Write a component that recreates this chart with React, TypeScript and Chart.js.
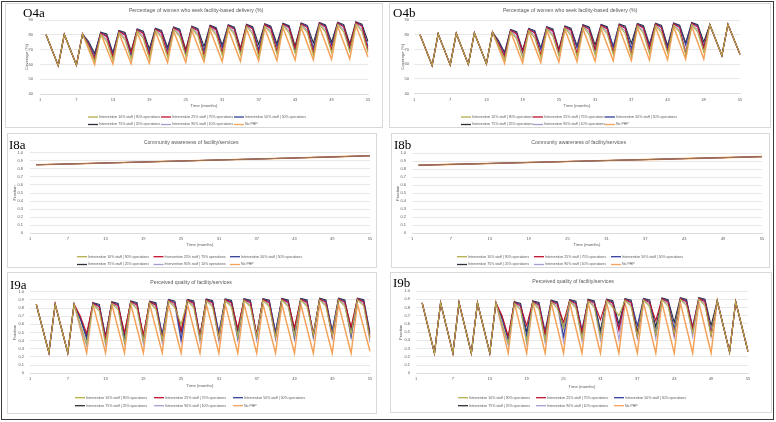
import React, { useEffect, useRef } from 'react';
import { Chart, registerables } from 'chart.js';

Chart.register(...registerables);
Chart.defaults.font.family = '"Liberation Sans", Arial, sans-serif';

// ---- categories / tick labels ----
const months: string[] = Array.from({ length: 55 }, (_, i) => String(i + 1));
const tickMonths = ['1', '7', '13', '19', '25', '31', '37', '43', '49', '55'];

const seriesNames = [
  'Intervention 10% staff | 90% operations',
  'Intervention 25% staff | 75% operations',
  'Intervention 50% staff | 50% operations',
  'Intervention 75% staff | 25% operations',
  'Intervention 90% staff | 10% operations',
  'No PHP',
];
const seriesColors = ['#B3AE4C', '#C0122F', '#34409A', '#2F2F3A', '#A99CCF', '#F4A259'];

// ---- O4a: facility-based delivery (%) ----
const o4aStaff10 = [null,
  80.0, 69.6, 59.2, 80.2, 69.9, 59.5, 80.6, 72.0, 62.0, 80.3, 75.3, 63.0, 81.5, 76.5, 63.5, 82.5, 77.5, 64.0,
  83.0, 78.0, 65.0, 83.8, 78.8, 65.5, 84.3, 79.3, 64.0, 84.9, 79.9, 66.0, 85.3, 80.3, 66.5, 85.6, 80.6, 65.0,
  85.9, 80.9, 67.0, 86.3, 81.3, 67.5, 86.5, 81.5, 66.0, 86.8, 81.8, 68.0, 87.0, 82.0, 68.5, 87.3, 82.3, 68.0];
const o4aStaff25 = [null,
  80.0, 69.6, 59.2, 80.2, 69.9, 59.5, 80.6, 73.5, 64.0, 81.2, 78.7, 65.0, 82.4, 79.9, 68.0, 83.4, 80.9, 66.0,
  83.9, 81.4, 67.0, 84.7, 82.2, 69.0, 85.2, 82.7, 66.0, 85.8, 83.3, 68.0, 86.2, 83.7, 70.0, 86.5, 84.0, 67.0,
  86.8, 84.3, 69.0, 87.2, 84.7, 71.0, 87.4, 84.9, 68.0, 87.7, 85.2, 70.0, 87.9, 85.4, 72.0, 88.2, 85.7, 70.0];
const o4aStaff50 = [null,
  80.0, 69.6, 59.2, 80.2, 69.9, 59.5, 80.6, 74.5, 66.0, 81.5, 79.5, 67.0, 82.7, 80.7, 66.0, 83.7, 81.7, 68.0,
  84.2, 82.2, 70.0, 85.0, 83.0, 67.0, 85.5, 83.5, 69.0, 86.1, 84.1, 71.0, 86.5, 84.5, 68.0, 86.8, 84.8, 70.0,
  87.1, 85.1, 72.0, 87.5, 85.5, 69.0, 87.7, 85.7, 71.0, 88.0, 86.0, 73.0, 88.2, 86.2, 70.0, 88.5, 86.5, 72.0];
const o4aStaff75 = [null,
  80.0, 69.6, 59.2, 80.2, 69.9, 59.5, 80.6, 75.5, 67.5, 81.8, 80.5, 68.0, 83.0, 81.6, 69.0, 84.0, 82.5, 70.5,
  84.5, 83.0, 71.5, 85.3, 83.8, 70.0, 85.8, 84.2, 72.0, 86.4, 84.8, 73.0, 86.8, 85.2, 71.0, 87.1, 85.5, 73.5,
  87.4, 85.8, 74.0, 87.8, 86.2, 72.5, 88.0, 86.4, 74.5, 88.3, 86.7, 75.0, 88.5, 86.9, 74.0, 88.8, 87.2, 75.5];
const o4aStaff90 = [null,
  80.0, 69.6, 59.2, 80.2, 69.9, 59.5, 80.6, 72.5, 63.0, 80.8, 76.8, 64.0, 82.0, 78.0, 65.0, 83.0, 79.0, 65.0,
  83.5, 79.5, 66.0, 84.3, 80.3, 67.0, 84.8, 80.8, 67.0, 85.4, 81.4, 67.5, 85.8, 81.8, 68.0, 86.1, 82.1, 68.0,
  86.4, 82.4, 68.5, 86.8, 82.8, 69.0, 87.0, 83.0, 69.0, 87.3, 83.3, 69.5, 87.5, 83.5, 70.0, 87.8, 83.8, 69.0];
const o4aNoPhp = [null,
  80.0, 69.6, 59.2, 80.2, 69.9, 59.5, 80.6, 70.3, 59.9, 80.9, 70.6, 60.3, 81.3, 70.9, 60.5, 81.6, 71.3, 60.9,
  82.1, 71.7, 61.2, 82.4, 71.9, 61.4, 82.9, 72.3, 61.7, 83.2, 72.6, 62.0, 83.7, 73.0, 62.2, 84.0, 73.3, 62.5,
  84.4, 73.6, 62.7, 84.7, 73.9, 63.0, 85.1, 74.2, 63.2, 85.4, 74.5, 63.5, 85.8, 74.8, 63.7, 86.1, 75.6, 65.0];

// ---- O4b ----
const o4bStaff10 = [null,
  80.0, 69.5, 59.0, 80.5, 70.0, 59.5, 80.8, 70.3, 59.8, 81.2, 70.7, 60.2, 81.8, 72.5, 63.0, 82.1, 77.1, 64.0,
  82.8, 77.8, 64.5, 84.0, 79.0, 65.5, 84.5, 79.5, 65.0, 85.3, 80.3, 66.0, 85.5, 80.5, 66.5, 85.8, 80.8, 65.5,
  86.1, 81.1, 67.0, 86.3, 81.3, 67.5, 86.5, 81.5, 66.5, 86.8, 81.8, 68.0, 86.8, 76.3, 65.8, 87.0, 76.8, 66.6];
const o4bStaff25 = [null,
  80.0, 69.5, 59.0, 80.5, 70.0, 59.5, 80.8, 70.3, 59.8, 81.2, 70.7, 60.2, 81.8, 74.0, 65.5, 83.0, 80.5, 68.5,
  83.7, 81.2, 66.5, 84.9, 82.4, 69.0, 85.4, 82.9, 67.0, 86.2, 83.7, 70.0, 86.4, 83.9, 68.0, 86.7, 84.2, 66.5,
  87.0, 84.5, 70.5, 87.2, 84.7, 68.5, 87.4, 84.9, 67.0, 87.7, 85.2, 71.0, 86.8, 76.3, 65.8, 87.0, 76.8, 66.6];
const o4bStaff50 = [null,
  80.0, 69.5, 59.0, 80.5, 70.0, 59.5, 80.8, 70.3, 59.8, 81.2, 70.7, 60.2, 81.8, 75.0, 67.0, 83.3, 81.3, 68.0,
  84.0, 82.0, 70.0, 85.2, 83.2, 68.5, 85.7, 83.7, 71.0, 86.5, 84.5, 69.5, 86.7, 84.7, 72.0, 87.0, 85.0, 70.5,
  87.3, 85.3, 72.5, 87.5, 85.5, 71.0, 87.7, 85.7, 73.0, 88.0, 86.0, 72.0, 86.8, 76.3, 65.8, 87.0, 76.8, 66.6];
const o4bStaff75 = [null,
  80.0, 69.5, 59.0, 80.5, 70.0, 59.5, 80.8, 70.3, 59.8, 81.2, 70.7, 60.2, 81.8, 76.0, 68.0, 83.6, 82.0, 69.5,
  84.3, 82.8, 71.0, 85.5, 84.0, 70.0, 86.0, 84.5, 72.5, 86.8, 85.3, 73.0, 87.0, 85.5, 71.5, 87.3, 85.8, 74.0,
  87.6, 86.1, 73.5, 87.8, 86.3, 72.5, 88.0, 86.5, 74.5, 88.3, 86.8, 75.0, 86.8, 76.3, 65.8, 87.0, 76.8, 66.6];
const o4bStaff90 = [null,
  80.0, 69.5, 59.0, 80.5, 70.0, 59.5, 80.8, 70.3, 59.8, 81.2, 70.7, 60.2, 81.8, 73.0, 64.0, 82.6, 78.6, 65.0,
  83.3, 79.3, 66.0, 84.5, 80.5, 66.5, 85.0, 81.0, 67.0, 85.8, 81.8, 67.5, 86.0, 82.0, 68.0, 86.3, 82.3, 68.0,
  86.6, 82.6, 68.5, 86.8, 82.8, 69.0, 87.0, 83.0, 69.0, 87.3, 83.3, 69.5, 86.8, 76.3, 65.8, 87.0, 76.8, 66.6];
const o4bNoPhp = [null,
  80.0, 69.5, 59.0, 80.5, 70.0, 59.5, 80.8, 70.3, 59.8, 81.2, 70.7, 60.2, 81.8, 71.2, 60.5, 82.2, 71.5, 60.8,
  82.6, 71.9, 61.1, 83.0, 72.2, 61.4, 83.4, 72.6, 61.7, 83.8, 72.9, 62.0, 84.1, 73.2, 62.3, 84.5, 73.5, 62.5,
  84.8, 73.8, 62.8, 85.2, 74.1, 63.0, 85.5, 74.4, 63.3, 85.8, 74.7, 63.5, 86.8, 76.3, 65.8, 87.0, 76.8, 66.6];

// ---- I8: community awareness (read at the labelled months; all runs coincide) ----
const i8Months = ['2', '7', '13', '19', '25', '31', '37', '43', '49', '55'];
const i8aIntervention = [0.850, 0.860, 0.872, 0.885, 0.897, 0.910, 0.922, 0.935, 0.948, 0.962];
const i8aNoPhp = [0.850, 0.860, 0.872, 0.885, 0.897, 0.910, 0.922, 0.935, 0.948, 0.962];
const i8bIntervention = [0.848, 0.858, 0.870, 0.882, 0.894, 0.906, 0.918, 0.930, 0.942, 0.955];
const i8bNoPhp = [0.848, 0.858, 0.870, 0.882, 0.894, 0.906, 0.918, 0.930, 0.942, 0.955];

// ---- I9a: perceived quality ----
const i9aStaff10 = [null,
  0.845, 0.549, 0.253, 0.846, 0.549, 0.252, 0.845, 0.600, 0.360, 0.845, 0.765, 0.370, 0.857, 0.777, 0.380,
  0.866, 0.786, 0.400, 0.865, 0.785, 0.410, 0.885, 0.805, 0.600, 0.886, 0.806, 0.420, 0.890, 0.810, 0.430,
  0.892, 0.812, 0.440, 0.895, 0.815, 0.450, 0.895, 0.815, 0.440, 0.898, 0.818, 0.460, 0.898, 0.818, 0.470,
  0.900, 0.820, 0.460, 0.900, 0.820, 0.480, 0.902, 0.822, 0.420];
const i9aStaff25 = [null,
  0.845, 0.549, 0.253, 0.846, 0.549, 0.252, 0.845, 0.700, 0.490, 0.855, 0.815, 0.430, 0.867, 0.827, 0.500,
  0.876, 0.836, 0.470, 0.875, 0.835, 0.420, 0.895, 0.855, 0.520, 0.896, 0.856, 0.460, 0.900, 0.860, 0.430,
  0.902, 0.862, 0.550, 0.905, 0.865, 0.470, 0.905, 0.865, 0.440, 0.908, 0.868, 0.560, 0.908, 0.868, 0.480,
  0.910, 0.870, 0.450, 0.910, 0.870, 0.570, 0.912, 0.872, 0.440];
const i9aStaff50 = [null,
  0.845, 0.549, 0.253, 0.846, 0.549, 0.252, 0.845, 0.660, 0.420, 0.860, 0.830, 0.460, 0.872, 0.842, 0.400,
  0.881, 0.851, 0.450, 0.880, 0.850, 0.480, 0.900, 0.870, 0.410, 0.901, 0.871, 0.470, 0.905, 0.875, 0.500,
  0.907, 0.877, 0.430, 0.910, 0.880, 0.480, 0.910, 0.880, 0.510, 0.913, 0.883, 0.440, 0.913, 0.883, 0.490,
  0.915, 0.885, 0.520, 0.915, 0.885, 0.450, 0.917, 0.887, 0.470];
const i9aStaff75 = [null,
  0.845, 0.549, 0.253, 0.846, 0.549, 0.252, 0.845, 0.680, 0.450, 0.865, 0.845, 0.440, 0.877, 0.857, 0.470,
  0.886, 0.866, 0.420, 0.885, 0.865, 0.460, 0.905, 0.885, 0.500, 0.906, 0.886, 0.440, 0.910, 0.890, 0.480,
  0.912, 0.892, 0.520, 0.915, 0.895, 0.450, 0.915, 0.895, 0.500, 0.918, 0.898, 0.530, 0.918, 0.898, 0.460,
  0.920, 0.900, 0.510, 0.920, 0.900, 0.540, 0.922, 0.902, 0.500];
const i9aStaff90 = [null,
  0.845, 0.549, 0.253, 0.846, 0.549, 0.252, 0.845, 0.580, 0.340, 0.850, 0.790, 0.350, 0.862, 0.802, 0.360,
  0.871, 0.811, 0.360, 0.870, 0.810, 0.370, 0.890, 0.830, 0.380, 0.891, 0.831, 0.380, 0.895, 0.835, 0.390,
  0.897, 0.837, 0.400, 0.900, 0.840, 0.400, 0.900, 0.840, 0.410, 0.903, 0.843, 0.410, 0.903, 0.843, 0.420,
  0.905, 0.845, 0.420, 0.905, 0.845, 0.430, 0.907, 0.847, 0.380];
const i9aNoPhp = [null,
  0.845, 0.549, 0.253, 0.846, 0.549, 0.252, 0.845, 0.548, 0.252, 0.846, 0.549, 0.251, 0.846, 0.548, 0.251,
  0.847, 0.549, 0.250, 0.846, 0.548, 0.250, 0.847, 0.548, 0.249, 0.847, 0.548, 0.249, 0.848, 0.548, 0.248,
  0.847, 0.548, 0.248, 0.848, 0.548, 0.247, 0.848, 0.548, 0.247, 0.849, 0.548, 0.246, 0.848, 0.547, 0.246,
  0.849, 0.547, 0.245, 0.849, 0.547, 0.245, 0.850, 0.560, 0.270];

// ---- I9b ----
const i9bStaff10 = [null,
  0.857, 0.551, 0.245, 0.856, 0.551, 0.246, 0.857, 0.551, 0.245, 0.856, 0.551, 0.246, 0.857, 0.600, 0.360,
  0.850, 0.770, 0.380, 0.860, 0.780, 0.400, 0.868, 0.788, 0.550, 0.875, 0.795, 0.420, 0.880, 0.800, 0.440,
  0.882, 0.802, 0.700, 0.888, 0.808, 0.450, 0.890, 0.810, 0.470, 0.895, 0.815, 0.480, 0.898, 0.818, 0.490,
  0.900, 0.820, 0.460, 0.880, 0.570, 0.260, 0.870, 0.567, 0.265];
const i9bStaff25 = [null,
  0.857, 0.551, 0.245, 0.856, 0.551, 0.246, 0.857, 0.551, 0.245, 0.856, 0.551, 0.246, 0.857, 0.700, 0.450,
  0.860, 0.820, 0.580, 0.870, 0.830, 0.480, 0.878, 0.838, 0.620, 0.885, 0.845, 0.500, 0.890, 0.850, 0.650,
  0.892, 0.852, 0.520, 0.898, 0.858, 0.450, 0.900, 0.860, 0.640, 0.905, 0.865, 0.470, 0.908, 0.868, 0.550,
  0.910, 0.870, 0.470, 0.880, 0.570, 0.260, 0.870, 0.567, 0.265];
const i9bStaff50 = [null,
  0.857, 0.551, 0.245, 0.856, 0.551, 0.246, 0.857, 0.551, 0.245, 0.856, 0.551, 0.246, 0.857, 0.660, 0.400,
  0.865, 0.835, 0.460, 0.875, 0.845, 0.520, 0.883, 0.853, 0.450, 0.890, 0.860, 0.530, 0.895, 0.865, 0.470,
  0.897, 0.867, 0.550, 0.903, 0.873, 0.580, 0.905, 0.875, 0.480, 0.910, 0.880, 0.540, 0.913, 0.883, 0.570,
  0.915, 0.885, 0.500, 0.880, 0.570, 0.260, 0.870, 0.567, 0.265];
const i9bStaff75 = [null,
  0.857, 0.551, 0.245, 0.856, 0.551, 0.246, 0.857, 0.551, 0.245, 0.856, 0.551, 0.246, 0.857, 0.680, 0.430,
  0.870, 0.850, 0.500, 0.880, 0.860, 0.460, 0.888, 0.868, 0.550, 0.895, 0.875, 0.480, 0.900, 0.880, 0.520,
  0.902, 0.882, 0.600, 0.908, 0.888, 0.500, 0.910, 0.890, 0.560, 0.915, 0.895, 0.620, 0.918, 0.898, 0.520,
  0.920, 0.900, 0.580, 0.880, 0.570, 0.260, 0.870, 0.567, 0.265];
const i9bStaff90 = [null,
  0.857, 0.551, 0.245, 0.856, 0.551, 0.246, 0.857, 0.551, 0.245, 0.856, 0.551, 0.246, 0.857, 0.580, 0.340,
  0.855, 0.795, 0.360, 0.865, 0.805, 0.370, 0.873, 0.813, 0.380, 0.880, 0.820, 0.390, 0.885, 0.825, 0.400,
  0.887, 0.827, 0.410, 0.893, 0.833, 0.420, 0.895, 0.835, 0.420, 0.900, 0.840, 0.430, 0.903, 0.843, 0.440,
  0.905, 0.845, 0.440, 0.880, 0.570, 0.260, 0.870, 0.567, 0.265];
const i9bNoPhp = [null,
  0.857, 0.551, 0.245, 0.856, 0.551, 0.246, 0.857, 0.551, 0.245, 0.856, 0.551, 0.246, 0.857, 0.551, 0.245,
  0.858, 0.552, 0.246, 0.857, 0.551, 0.245, 0.858, 0.552, 0.246, 0.857, 0.551, 0.245, 0.858, 0.552, 0.246,
  0.858, 0.551, 0.245, 0.859, 0.552, 0.246, 0.858, 0.552, 0.245, 0.859, 0.552, 0.246, 0.859, 0.552, 0.245,
  0.860, 0.553, 0.246, 0.880, 0.570, 0.260, 0.870, 0.567, 0.265];

const atMonths = (vals: number[]) => vals.map((y, i) => ({ x: i8Months[i], y }));

// ---- styling ----
const TEXT = '#595959';
const GRID = '#d9d9d9';
const TICK_FS = 4;
const TITLE_FS = 5.2;
const AXIS_TITLE_FS = 4.2;
const LEGEND_FS = 3.5;
const lh = (fs: number) => fs * 1.2;

type Spec = {
  tag: string; tagX: number; tagY: number;
  box: { x: number; y: number; w: number; h: number };
  plot: { l: number; r: number; t: number; b: number };
  title: string; titleY: number;
  yTitle: string; yTitleX: number; yLabelRight: number;
  yMin: number; yMax: number; yStep: number;
  xLabelY: number; xTitleY: number;
  legendX: number; legendCol: number; legendRows: [number, number];
  lineWidth: number; underWidth: number;
  series: any[];
};

const coverage = { yTitle: 'Coverage (%)', yMin: 40, yMax: 90, yStep: 10 };
const fraction = { yTitle: 'Fraction', yMin: 0, yMax: 1, yStep: 0.1 };

const panels: Spec[] = [
  {
    tag: 'O4a', tagX: 23, tagY: 13,
    box: { x: 5, y: 3, w: 378, h: 125 }, plot: { l: 40, r: 368, t: 20, b: 94 },
    title: 'Percentage of women who seek facility-based delivery (%)', titleY: 11,
    ...coverage, yTitleX: 27, yLabelRight: 33, xLabelY: 100, xTitleY: 106,
    legendX: 88, legendCol: 73, legendRows: [117, 124.5], lineWidth: 1.5, underWidth: 1.1,
    series: [o4aStaff10, o4aStaff25, o4aStaff50, o4aStaff75, o4aStaff90, o4aNoPhp],
  },
  {
    tag: 'O4b', tagX: 393, tagY: 13,
    box: { x: 389, y: 3, w: 382, h: 125 }, plot: { l: 414, r: 740, t: 20, b: 93.5 },
    title: 'Percentage of women who seek facility-based delivery (%)', titleY: 11,
    ...coverage, yTitleX: 403, yLabelRight: 409, xLabelY: 99.5, xTitleY: 105.5,
    legendX: 461, legendCol: 72, legendRows: [117, 124.5], lineWidth: 1.5, underWidth: 1.1,
    series: [o4bStaff10, o4bStaff25, o4bStaff50, o4bStaff75, o4bStaff90, o4bNoPhp],
  },
  {
    tag: 'I8a', tagX: 9, tagY: 145,
    box: { x: 7, y: 133, w: 370, h: 135 }, plot: { l: 30, r: 370, t: 152.7, b: 233.3 },
    title: 'Community awareness of facility/services', titleY: 143,
    ...fraction, yTitleX: 15, yLabelRight: 23, xLabelY: 238.5, xTitleY: 245,
    legendX: 77, legendCol: 76.5, legendRows: [256.7, 264.5], lineWidth: 1.6, underWidth: 0.6,
    series: [
      atMonths(i8aIntervention), atMonths(i8aIntervention), atMonths(i8aIntervention),
      atMonths(i8aIntervention), atMonths(i8aIntervention), atMonths(i8aNoPhp),
    ],
  },
  {
    tag: 'I8b', tagX: 394, tagY: 145,
    box: { x: 391, y: 133, w: 379, h: 135 }, plot: { l: 412, r: 762, t: 153, b: 233.3 },
    title: 'Community awareness of facility/services', titleY: 143,
    ...fraction, yTitleX: 398, yLabelRight: 406, xLabelY: 238.5, xTitleY: 245,
    legendX: 457, legendCol: 77, legendRows: [256.7, 264.5], lineWidth: 1.6, underWidth: 0.6,
    series: [
      atMonths(i8bIntervention), atMonths(i8bIntervention), atMonths(i8bIntervention),
      atMonths(i8bIntervention), atMonths(i8bIntervention), atMonths(i8bNoPhp),
    ],
  },
  {
    tag: 'I9a', tagX: 10, tagY: 285,
    box: { x: 7, y: 272, w: 370, h: 142 }, plot: { l: 30, r: 370, t: 291.7, b: 373.3 },
    title: 'Perceived quality of facility/services', titleY: 283,
    ...fraction, yTitleX: 15, yLabelRight: 24, xLabelY: 378.5, xTitleY: 386,
    legendX: 75, legendCol: 79, legendRows: [397.7, 405.7], lineWidth: 1.5, underWidth: 1.1,
    series: [i9aStaff10, i9aStaff25, i9aStaff50, i9aStaff75, i9aStaff90, i9aNoPhp],
  },
  {
    tag: 'I9b', tagX: 393, tagY: 283,
    box: { x: 390, y: 272, w: 382, h: 141 }, plot: { l: 416, r: 748, t: 291, b: 373.3 },
    title: 'Perceived quality of facility/services', titleY: 281.7,
    ...fraction, yTitleX: 401, yLabelRight: 410, xLabelY: 378.5, xTitleY: 386.5,
    legendX: 458, legendCol: 78, legendRows: [397.7, 405.7], lineWidth: 1.5, underWidth: 1.1,
    series: [i9bStaff10, i9bStaff25, i9bStaff50, i9bStaff75, i9bStaff90, i9bNoPhp],
  },
];

function Panel({ spec }: { spec: Spec }) {
  const ref = useRef<HTMLCanvasElement | null>(null);

  useEffect(() => {
    if (!ref.current) return;
    const { box, plot } = spec;
    const bx = box.x, by = box.y;
    const l = plot.l - bx, r = plot.r - bx, t = plot.t - by;
    const yTitleLh = lh(AXIS_TITLE_FS);
    const padL = Math.max(0, spec.yTitleX - bx - yTitleLh / 2 - 0.3);
    const yW = l - padL;
    const yTitlePad = Math.max(0, spec.yTitleX - bx - padL - yTitleLh / 2);
    const padR = box.w - r;
    const titleRel = spec.titleY - by;
    const titlePadTop = titleRel - lh(TITLE_FS) / 2;
    const titlePadBottom = t - titleRel - lh(TITLE_FS) / 2;
    const xTickPad = spec.xLabelY - plot.b - lh(TICK_FS) / 2;
    const xBottom = spec.xTitleY + yTitleLh / 2;
    const xH = xBottom - plot.b;
    const padB = by + box.h - xBottom;

    // two-row legend laid out in three fixed columns under the axis title
    const legendPlugin = {
      id: 'gridLegend',
      afterDraw(chart: any) {
        const ctx = chart.ctx as CanvasRenderingContext2D;
        ctx.save();
        ctx.font = `${LEGEND_FS}px "Liberation Sans", Arial, sans-serif`;
        ctx.textBaseline = 'middle';
        chart.data.datasets.forEach((ds: any, i: number) => {
          const row = Math.floor(i / 3);
          const col = i % 3;
          const x = spec.legendX - bx + col * spec.legendCol;
          const y = spec.legendRows[row] - by;
          ctx.strokeStyle = ds.borderColor;
          ctx.lineWidth = 1.3;
          ctx.beginPath();
          ctx.moveTo(x, y);
          ctx.lineTo(x + 10, y);
          ctx.stroke();
          ctx.fillStyle = TEXT;
          ctx.fillText(ds.label, x + 11, y);
        });
        ctx.restore();
      },
    };

    const chart = new Chart(ref.current, {
      type: 'line',
      data: {
        labels: months,
        datasets: spec.series.map((data, i) => ({
          label: seriesNames[i],
          data,
          borderColor: seriesColors[i],
          backgroundColor: seriesColors[i],
          borderWidth: i === 5 ? spec.lineWidth : spec.underWidth,
          pointRadius: 0,
          tension: 0,
          fill: false,
        })),
      },
      options: {
        responsive: false,
        maintainAspectRatio: false,
        animation: false,
        devicePixelRatio: 1,
        events: [],
        layout: { padding: { left: padL, right: padR, top: 0, bottom: padB } },
        plugins: {
          legend: { display: false },
          tooltip: { enabled: false },
          title: {
            display: true,
            text: spec.title,
            color: TEXT,
            font: { size: TITLE_FS, weight: 'normal' },
            padding: { top: titlePadTop, bottom: titlePadBottom },
          },
        },
        scales: {
          x: {
            type: 'category',
            offset: false,
            grid: { display: false, drawTicks: false },
            border: { display: true, color: GRID, width: 0.8 },
            ticks: {
              autoSkip: false,
              maxRotation: 0,
              color: TEXT,
              font: { size: TICK_FS },
              padding: xTickPad,
              callback: (value: any) => {
                const lab = months[value as number];
                return tickMonths.includes(lab) ? lab : null;
              },
            },
            title: {
              display: true,
              text: 'Time (months)',
              color: TEXT,
              font: { size: AXIS_TITLE_FS },
              padding: { top: 0, bottom: 0 },
            },
            afterFit: (s: any) => { s.height = xH; },
          },
          y: {
            min: spec.yMin,
            max: spec.yMax,
            grid: { color: GRID, lineWidth: 0.6, drawTicks: false },
            border: { display: false },
            ticks: {
              stepSize: spec.yStep,
              color: TEXT,
              font: { size: TICK_FS },
              padding: l - (spec.yLabelRight - bx),
            },
            title: {
              display: true,
              text: spec.yTitle,
              color: TEXT,
              font: { size: AXIS_TITLE_FS },
              padding: { top: yTitlePad, bottom: 0 },
            },
            afterFit: (s: any) => { s.width = yW; },
          },
        },
      } as any,
      plugins: [legendPlugin],
    });
    return () => chart.destroy();
  }, [spec]);

  const { box } = spec;
  return (
    <>
      <div
        style={{
          position: 'absolute', left: box.x, top: box.y, width: box.w, height: box.h,
          boxSizing: 'border-box', border: '1px solid #d9d9d9', background: '#fff',
        }}
      />
      <canvas
        ref={ref}
        width={box.w}
        height={box.h}
        style={{ position: 'absolute', left: box.x, top: box.y, width: box.w, height: box.h }}
      />
      <span
        style={{
          position: 'absolute', left: spec.tagX, top: spec.tagY - 7.6, fontFamily: '"Liberation Serif", "Times New Roman", serif',
          fontSize: 13, lineHeight: '15px', color: '#000', whiteSpace: 'nowrap',
        }}
      >
        {spec.tag}
      </span>
    </>
  );
}

export default function App() {
  return (
    <div style={{ position: 'absolute', left: 0, top: 0, width: 776, height: 422, background: '#fff', overflow: 'hidden' }}>
      <div
        style={{
          position: 'absolute', left: 1, top: 1, width: 773, height: 419,
          boxSizing: 'border-box', border: '1.5px solid #3a3a3a',
        }}
      />
      {panels.map((p) => (
        <Panel key={p.tag} spec={p} />
      ))}
    </div>
  );
}
